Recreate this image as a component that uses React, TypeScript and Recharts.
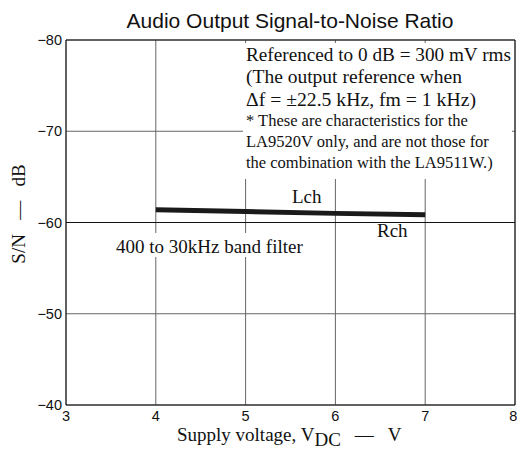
import { LineChart, Line, XAxis, YAxis, CartesianGrid, ReferenceLine } from 'recharts';

const voltage = [4, 5, 6, 7];
const snRatio = [-61.4, -61.2, -61.0, -60.85];
const xTicks = [3, 4, 5, 6, 7, 8];
const yTicks = [-80, -70, -60, -50, -40];

const data = voltage.map((v, i) => ({ v, sn: snRatio[i] }));

const sans = '"Liberation Sans", Arial, sans-serif';
const serif = '"Liberation Serif", "Times New Roman", serif';

const fmtY = (v: number) => (v < 0 ? `\u2212${Math.abs(v)}` : String(v));

export default function App() {
  return (
    <div style={{ position: 'absolute', left: 0, top: 0, width: 517, height: 451, background: '#fff' }}>
      <LineChart width={517} height={451} data={data} margin={{ top: 40, right: 2, bottom: 16, left: 0 }}>
        <CartesianGrid stroke="#666" strokeWidth={1} />
        <XAxis
          dataKey="v"
          type="number"
          domain={[3, 8]}
          ticks={xTicks}
          height={30}
          axisLine={false}
          tickLine={false}
          tickSize={4}
          tickMargin={2}
          tick={{ fontSize: 14.5, fontFamily: sans, fill: '#111' }}
        />
        <YAxis
          type="number"
          domain={[-80, -40]}
          reversed
          ticks={yTicks}
          width={66}
          axisLine={false}
          tickLine={false}
          tickSize={2}
          tickMargin={2}
          tickFormatter={fmtY}
          tick={{ fontSize: 14.5, fontFamily: sans, fill: '#111' }}
        />
        <ReferenceLine y={-60} stroke="#111" />
        <ReferenceLine x={3} stroke="#111" />
        <ReferenceLine x={8} stroke="#111" />
        <ReferenceLine y={-80} stroke="#111" />
        <ReferenceLine y={-40} stroke="#111" />
        <Line
          dataKey="sn"
          type="linear"
          stroke="#1a1a1a"
          strokeWidth={5}
          dot={false}
          isAnimationActive={false}
        />
      </LineChart>
      <svg width={517} height={451} style={{ position: 'absolute', left: 0, top: 0, pointerEvents: 'none' }}>
        <text x={290} y={28} textAnchor="middle" fontFamily={sans} fontSize={21} fill="#111">
          Audio Output Signal-to-Noise Ratio
        </text>
        <rect x={243} y={43} width={269} height={136} fill="#fff" />
        <g fontFamily={serif} fill="#111">
          <text x={246} y={61} fontSize={19} textLength={265} lengthAdjust="spacingAndGlyphs">
            Referenced to 0 dB = 300 mV rms
          </text>
          <text x={246} y={83} fontSize={19} textLength={216} lengthAdjust="spacingAndGlyphs">
            (The output reference when
          </text>
          <text x={246} y={106} fontSize={19} textLength={230} lengthAdjust="spacingAndGlyphs">
            {'\u0394f = \u00b122.5 kHz, fm = 1 kHz)'}
          </text>
          <text x={246} y={126} fontSize={16.5}>* These are characteristics for the</text>
          <text x={246} y={147} fontSize={16.5}>LA9520V only, and are not those for</text>
          <text x={246} y={168} fontSize={16.5}>the combination with the LA9511W.)</text>
        </g>
        <rect x={112} y={233} width={196} height={24} fill="#fff" />
        <g fontFamily={serif} fill="#111" fontSize={19}>
          <text x={116} y={253}>400 to 30kHz band filter</text>
          <text x={292} y={203}>Lch</text>
          <text x={377} y={237}>Rch</text>
          <text x={177} y={441}>
            Supply voltage, V<tspan dy={5}>DC</tspan>
            <tspan dy={-5} dx={14}>{'\u2014'}</tspan>
            <tspan dx={14}>V</tspan>
          </text>
          <text x={25} y={214} textAnchor="middle" transform="rotate(-90 25 214)">
            {'S/N \u2002\u2014\u2002 dB'}
          </text>
        </g>
      </svg>
    </div>
  );
}
